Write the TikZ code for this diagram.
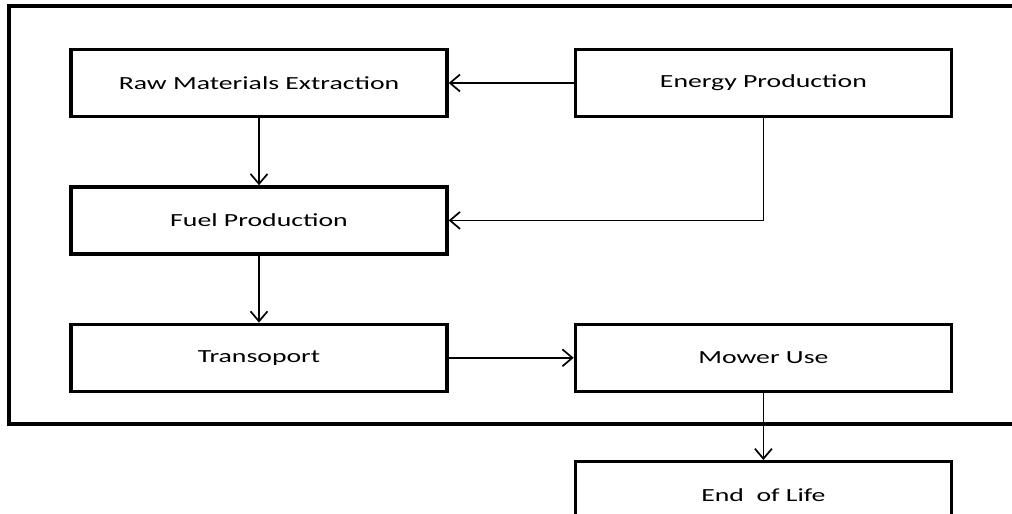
\documentclass[tikz,border=0pt]{standalone}
\usepackage{fontspec}
\setmainfont{Carlito}[FakeStretch=1.5]
\usepackage{tikz}
\usetikzlibrary{arrows.meta,positioning}
\tikzset{
  box/.style   = {rectangle, draw=black, line width=3.4pt, fill=white, align=center,
                  minimum width=376pt, minimum height=67pt, inner sep=0pt,
                  font=\fontsize{18.5}{22}\selectfont},
  fl/.style    = {-{Straight Barb[length=10pt,width=17pt]}, line width=1.7pt, draw=black},
  frame/.style = {draw=black, line width=3.4pt},
}
\begin{document}
\begin{tikzpicture}[x=1pt, y=-1pt, node distance=67pt and 125pt]
\clip (0,0) rectangle (1012,514);
\draw[frame] (9,6) rectangle (1040,424);
\node[box] (raw) at (259,83) {Raw Materials Extraction};
\node[box, right=of raw]       (energy)  {Energy Production};
\node[box, below=of raw]       (fuel)    {Fuel Production};
\node[box, below=of fuel]      (trans)   {Transoport};
\node[box, right=of trans]     (mower)   {Mower Use};
\node[box, below=of mower]     (eol)     {End~ of Life};
\draw[fl](energy)--(raw); \draw[fl](raw)--(fuel); \draw[fl](energy)|-(fuel);
\draw[fl](fuel)--(trans); \draw[fl](trans)--(mower); \draw[fl](mower)--(eol);
\end{tikzpicture}
\end{document}
